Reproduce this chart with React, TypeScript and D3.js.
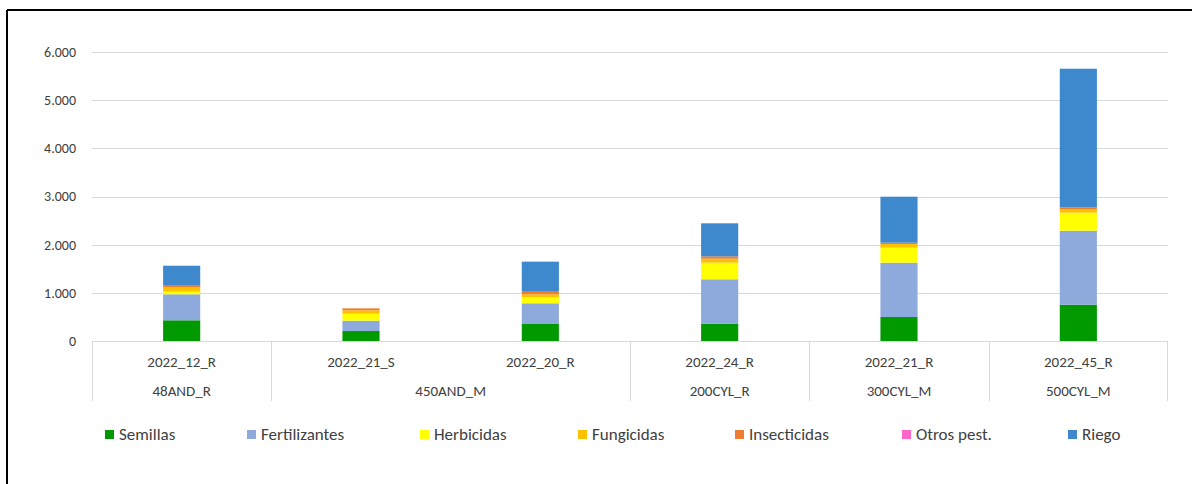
import React from "react";
import * as d3 from "d3";

const categories = ["2022_12_R", "2022_21_S", "2022_20_R", "2022_24_R", "2022_21_R", "2022_45_R"];
const groups = ["48AND_R", "450AND_M", "450AND_M", "200CYL_R", "300CYL_M", "500CYL_M"];
const seriesNames = ["Semillas", "Fertilizantes", "Herbicidas", "Fungicidas", "Insecticidas", "Otros pest.", "Riego"];
const seriesColors = ["#009A00", "#8EA9DB", "#FFFF00", "#FFC000", "#ED7D31", "#FF66CC", "#3E88CD"];
const semillas = [430, 207, 353, 360, 498, 754];
const fertilizantes = [540, 215, 430, 921, 1128, 1536];
const herbicidas = [55, 145, 124, 345, 311, 374];
const fungicidas = [90, 70, 62, 83, 77, 69];
const insecticidas = [48, 41, 69, 48, 27, 43];
const otrosPest = [0, 0, 0, 0, 0, 0];
const riego = [400, 0, 609, 686, 955, 2877];
const yTicks = [0, 1000, 2000, 3000, 4000, 5000, 6000];
const legendX = [105, 247, 420, 578, 735, 902, 1068];

const seriesValues = [semillas, fertilizantes, herbicidas, fungicidas, insecticidas, otrosPest, riego];

const locale = d3.formatLocale({ thousands: ".", decimal: ",", grouping: [3], currency: ["", ""] });
const fmt = locale.format(",d");

export default function App() {
  const W = 1192, H = 484;
  const left = 92, right = 1168, top = 52, bottom = 341;
  const font = "Carlito, Calibri, Lato, 'Open Sans', sans-serif";
  const textColor = "#404040";
  const grid = "#D9D9D9";

  const rows = categories.map((c, i) => {
    const o: any = { cat: c };
    seriesNames.forEach((s, j) => (o[s] = seriesValues[j][i]));
    return o;
  });
  const stack = d3.stack<any>().keys(seriesNames)(rows);

  const x = d3.scaleBand<string>().domain(categories).range([left, right]).padding(0);
  const y = d3.scaleLinear().domain([0, 6000]).range([bottom, top]);
  const bw = x.bandwidth() * 0.207;

  const spans: { name: string; start: number; end: number }[] = [];
  groups.forEach((g, i) => {
    const last = spans[spans.length - 1];
    if (last && last.name === g) last.end = i;
    else spans.push({ name: g, start: i, end: i });
  });
  const bandStart = (i: number) => (x(categories[i]) as number);
  const bandEnd = (i: number) => (x(categories[i]) as number) + x.bandwidth();

  return (
    <svg width={W} height={H} style={{ position: "absolute", left: 0, top: 0, background: "#fff" }} fontFamily={font}>
      <rect x={0} y={0} width={W} height={H} fill="#fff" />
      <line x1={7} y1={10} x2={W} y2={10} stroke="#000" strokeWidth={2} />
      <line x1={7} y1={10} x2={7} y2={H} stroke="#000" strokeWidth={2} />
      {yTicks.map((t) => (
        <g key={t}>
          <line x1={left} x2={right} y1={Math.round(y(t)) + 0.5} y2={Math.round(y(t)) + 0.5} stroke={grid} strokeWidth={1} />
          <text x={76} y={y(t)} dy="0.35em" textAnchor="end" fontSize={14} fill={textColor}>
            {fmt(t)}
          </text>
        </g>
      ))}
      {stack.map((s, j) => (
        <g key={seriesNames[j]} fill={seriesColors[j]}>
          {s.map((d, i) => {
            const h = y(d[0]) - y(d[1]);
            if (h <= 0) return null;
            const cx = (x(categories[i]) as number) + x.bandwidth() / 2;
            return <rect key={i} x={cx - bw / 2} y={y(d[1])} width={bw} height={h} />;
          })}
        </g>
      ))}
      {spans.map((sp, k) => (
        <line key={"s" + k} x1={Math.round(bandStart(sp.start)) + 0.5} x2={Math.round(bandStart(sp.start)) + 0.5} y1={bottom} y2={401} stroke={grid} strokeWidth={1} />
      ))}
      <line x1={right - 0.5} x2={right - 0.5} y1={bottom} y2={401} stroke={grid} strokeWidth={1} />
      {categories.map((c) => (
        <text key={c} x={(x(c) as number) + x.bandwidth() / 2} y={362} dy="0.35em" textAnchor="middle" fontSize={15} fill={textColor}>
          {c}
        </text>
      ))}
      {spans.map((sp, k) => (
        <text key={"g" + k} x={(bandStart(sp.start) + bandEnd(sp.end)) / 2} y={391} dy="0.35em" textAnchor="middle" fontSize={15} fill={textColor}>
          {sp.name}
        </text>
      ))}
      {seriesNames.map((s, j) => (
        <g key={s} transform={`translate(${legendX[j]},430)`}>
          <rect x={0} y={0} width={9} height={9} fill={seriesColors[j]} />
          <text x={14} y={4.5} dy="0.35em" fontSize={17} fill={textColor}>
            {s}
          </text>
        </g>
      ))}
    </svg>
  );
}
